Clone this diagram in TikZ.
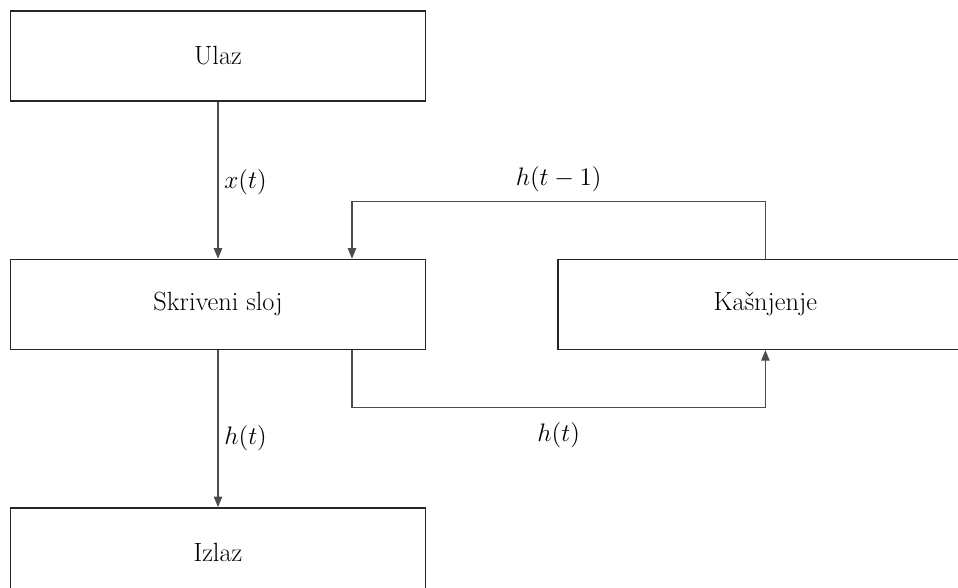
\documentclass[tikz,border=0pt]{standalone}
\usetikzlibrary{arrows.meta,positioning}

\begin{document}
\begin{tikzpicture}[
    font=\fontsize{15}{17}\selectfont,
    box/.style={draw=black!85, line width=.8pt, align=center, inner sep=5pt, minimum width=8.3cm, minimum height=1.8cm},
    link/.style={draw=black!70, line width=.6pt},
    arrow/.style={link, -{Triangle[width=4.8pt,length=6pt]}}
  ]
    \useasboundingbox (0,0) rectangle (19.16,-11.76);
    \clip (0,0) rectangle (19.16,-11.76);

    \node[box] (ulaz) at (4.36,-1.12) {Ulaz};
    \node[box, below=3.14cm of ulaz] (skriveni) {Skriveni sloj};
    \node[box, below=3.14cm of skriveni] (izlaz) {Izlaz};
    \node[box, right=2.62cm of skriveni] (kasnjenje) {Kašnjenje};

    \coordinate (fbin) at ([xshift=2.68cm]skriveni.north);
    \coordinate (fbout) at ([xshift=2.68cm]skriveni.south);

    \draw[arrow] (ulaz) -- node[right, yshift=-1pt] {$x(t)$} (skriveni);
    \draw[arrow] (skriveni) -- node[right, pos=.56] {$h(t)$} (izlaz);
    \draw[arrow] (kasnjenje.north) -- ++(0,1.14) -| node[pos=.25, above=2pt] {$h(t-1)$} (fbin);
    \draw[arrow] (fbout) -- ++(0,-1.15) -| node[pos=.25, below=5pt] {$h(t)$} (kasnjenje.south);
  \end{tikzpicture}
\end{document}
